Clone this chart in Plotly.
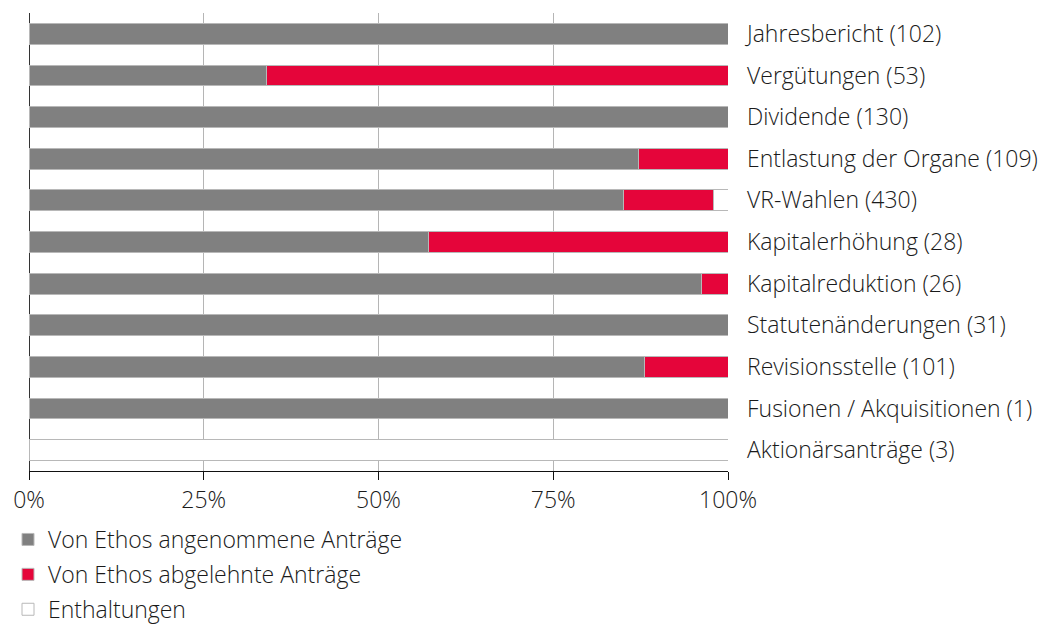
import plotly.graph_objects as go

categories = [
    "Jahresbericht (102)",
    "Vergütungen (53)",
    "Dividende (130)",
    "Entlastung der Organe (109)",
    "VR-Wahlen (430)",
    "Kapitalerhöhung (28)",
    "Kapitalreduktion (26)",
    "Statutenänderungen (31)",
    "Revisionsstelle (101)",
    "Fusionen / Akquisitionen (1)",
    "Aktionärsanträge (3)",
]
accepted = [100, 34.0, 100, 87.2, 85.1, 57.1, 96.2, 100, 88.1, 100, 0]
rejected = [0, 66.0, 0, 12.8, 12.8, 42.9, 3.8, 0, 11.9, 0, 0]
abstained = [0, 0, 0, 0, 2.1, 0, 0, 0, 0, 0, 100]
series_names = ["Von Ethos angenommene Anträge", "Von Ethos abgelehnte Anträge", "Enthaltungen"]
tick_vals = [0, 25, 50, 75, 100]
tick_text = ["0%", "25%", "50%", "75%", "100%"]

FONT = "Open Sans"
FS = 23
TXT = "#1a1a1a"
colors = ["#808080", "#e5053a", "#ffffff"]

fig = go.Figure()
for i, (name, vals, col) in enumerate(zip(series_names, [accepted, rejected, abstained], colors)):
    fig.add_trace(go.Bar(
        y=categories, x=vals, name=name, orientation="h",
        legendgroup=f"g{i}",
        marker=dict(color=col, line=dict(color="#b8b8b8", width=1)),
        width=0.5,
    ))

fig.update_layout(
    barmode="stack",
    width=1048, height=625,
    margin=dict(l=21, r=328, t=5, b=162, autoexpand=False),
    plot_bgcolor="white", paper_bgcolor="white",
    font=dict(family=FONT, size=FS, color=TXT, weight=300),
    showlegend=True,
    legend=dict(
        orientation="v", xref="container", yref="container",
        x=0, y=0.184, xanchor="left", yanchor="top",
        font=dict(family=FONT, size=FS, color=TXT, weight=300),
        itemwidth=30, tracegroupgap=2, traceorder="grouped",
        bgcolor="rgba(0,0,0,0)",
    ),
)
fig.update_xaxes(
    range=[0, 100], tickvals=tick_vals, ticktext=tick_text,
    showgrid=True, gridcolor="#b5b5b5", gridwidth=1,
    zeroline=True, zerolinecolor="#333333", zerolinewidth=1,
    showline=True, linecolor="#111111", linewidth=1,
    ticks="outside", ticklen=8, tickcolor="#111111",
    tickfont=dict(family=FONT, size=FS, color=TXT, weight=300),
    automargin=False, fixedrange=True,
)
fig.update_yaxes(
    side="right", autorange="reversed",
    showgrid=False, showline=False, ticks="",
    ticklabelstandoff=18, automargin=False,
    tickfont=dict(family=FONT, size=FS, color=TXT, weight=300),
)

fig.write_html("out.html")
